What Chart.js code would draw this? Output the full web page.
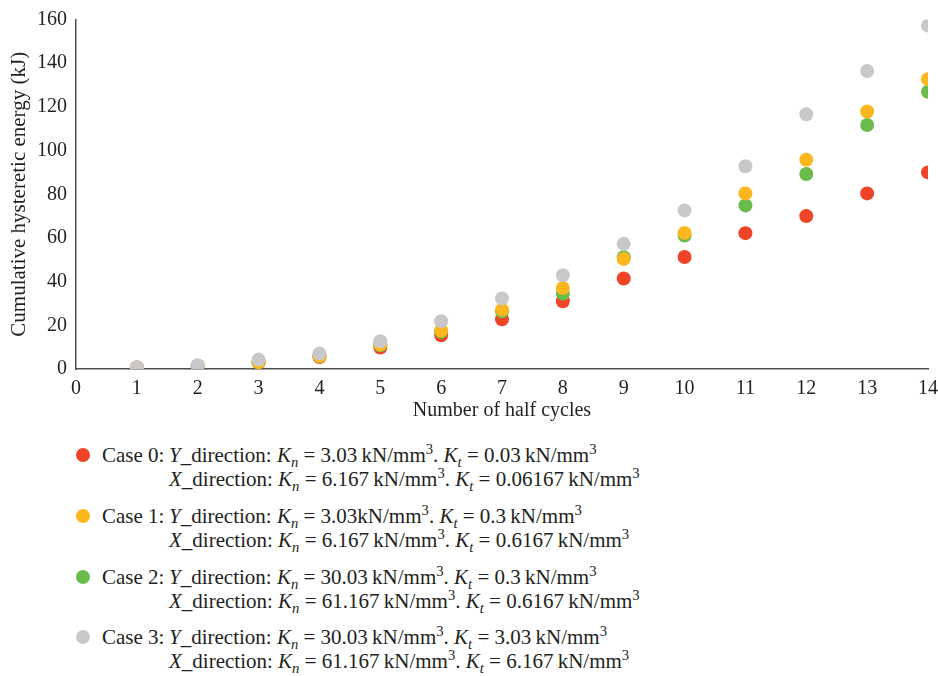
<!DOCTYPE html>
<html>
<head>
<meta charset="utf-8">
<script src="https://cdn.jsdelivr.net/npm/chart.js@4"></script>
<style>
  html, body { margin: 0; padding: 0; background: #fff; }
  body { width: 938px; height: 676px; position: relative; overflow: hidden;
         font-family: "Liberation Serif", "DejaVu Serif", serif; color: #231f20; }
  #wrap { position: absolute; left: 0; top: 0; width: 938px; height: 430px; }
  .legend { position: absolute; left: 0; top: 0; font-size: 21px; }
  .dot { position: absolute; width: 14px; height: 14px; border-radius: 50%; }
  .line { position: absolute; white-space: nowrap; line-height: 24px; }
  i { font-style: italic; }
  sub { font-size: 0.7em; vertical-align: -0.35em; line-height: 0; font-style: italic; }
  sup { font-size: 0.7em; vertical-align: 0.55em; line-height: 0; }
</style>
</head>
<body>
<div id="wrap"><canvas id="c" width="938" height="430"></canvas></div>
<div class="legend" id="legend"></div>
<script>
// ---- data ----
const halfCycles = [1, 2, 3, 4, 5, 6, 7, 8, 9, 10, 11, 12, 13, 14];
const case0 = [0.7, 1.3, 2.9, 5.5, 9.8, 15.4, 22.8, 31.0, 41.4, 51.3, 62.2, 70.0, 80.4, 90.0];
const case1 = [0.7, 1.5, 3.2, 5.9, 11.2, 17.6, 27.2, 37.1, 50.4, 62.3, 80.4, 95.8, 117.9, 132.7];
const case2 = [0.7, 1.4, 3.2, 5.8, 10.9, 17.0, 26.4, 34.5, 51.2, 61.1, 74.9, 89.3, 111.7, 126.9];
const case3 = [0.8, 1.7, 4.3, 7.1, 12.7, 21.9, 32.3, 42.9, 57.3, 72.6, 92.8, 116.6, 136.4, 157.2];
const xTicks = [0, 1, 2, 3, 4, 5, 6, 7, 8, 9, 10, 11, 12, 13, 14];
const yTicks = [0, 20, 40, 60, 80, 100, 120, 140, 160];
const seriesNames = ["Case 0", "Case 1", "Case 2", "Case 3"];
const colors = ["#EE4427", "#FDB71E", "#69BC4C", "#C8C8CA"];
const drawOrder = [3, 1, 2, 0];
const legendLines = [
  ["<i>Y</i>_direction: <i>K</i><sub>n</sub> = 3.03&thinsp;kN/mm<sup>3</sup>. <i>K</i><sub>t</sub> = 0.03&thinsp;kN/mm<sup>3</sup>",
   "<i>X</i>_direction: <i>K</i><sub>n</sub> = 6.167&thinsp;kN/mm<sup>3</sup>. <i>K</i><sub>t</sub> = 0.06167&thinsp;kN/mm<sup>3</sup>"],
  ["<i>Y</i>_direction: <i>K</i><sub>n</sub> = 3.03kN/mm<sup>3</sup>. <i>K</i><sub>t</sub> = 0.3&thinsp;kN/mm<sup>3</sup>",
   "<i>X</i>_direction: <i>K</i><sub>n</sub> = 6.167&thinsp;kN/mm<sup>3</sup>. <i>K</i><sub>t</sub> = 0.6167&thinsp;kN/mm<sup>3</sup>"],
  ["<i>Y</i>_direction: <i>K</i><sub>n</sub> = 30.03&thinsp;kN/mm<sup>3</sup>. <i>K</i><sub>t</sub> = 0.3&thinsp;kN/mm<sup>3</sup>",
   "<i>X</i>_direction: <i>K</i><sub>n</sub> = 61.167&thinsp;kN/mm<sup>3</sup>. <i>K</i><sub>t</sub> = 0.6167&thinsp;kN/mm<sup>3</sup>"],
  ["<i>Y</i>_direction: <i>K</i><sub>n</sub> = 30.03&thinsp;kN/mm<sup>3</sup>. <i>K</i><sub>t</sub> = 3.03&thinsp;kN/mm<sup>3</sup>",
   "<i>X</i>_direction: <i>K</i><sub>n</sub> = 61.167&thinsp;kN/mm<sup>3</sup>. <i>K</i><sub>t</sub> = 6.167&thinsp;kN/mm<sup>3</sup>"]
];

const allSeries = [case0, case1, case2, case3];
const datasets = allSeries.map((vals, i) => ({
  label: seriesNames[i],
  data: halfCycles.map((x, j) => ({ x: x, y: vals[j] })),
  backgroundColor: colors[i],
  borderColor: colors[i],
  borderWidth: 0,
  pointRadius: 7,
  pointHoverRadius: 7,
  showLine: false,
  order: drawOrder[i]
}));

const FONT = "'Liberation Serif', 'DejaVu Serif', serif";
const chart = new Chart(document.getElementById('c'), {
  type: 'scatter',
  data: { datasets },
  options: {
    responsive: false,
    animation: false,
    events: [],
    layout: { padding: { left: 0, right: 10, top: 19.5, bottom: 0 } },
    plugins: { legend: { display: false }, tooltip: { enabled: false } },
    scales: {
      x: {
        type: 'linear', min: 0, max: 14,
        afterBuildTicks: s => { s.ticks = xTicks.map(v => ({ value: v })); },
        afterFit: s => { s.height = 61; s.paddingLeft = 0; s.paddingRight = 0; },
        grid: { display: false, drawTicks: false },
        border: { display: true, color: '#4d4d4d', width: 1.5 },
        ticks: { color: '#231f20', padding: 8, font: { family: FONT, size: 20 } },
        title: { display: true, text: 'Number of half cycles', color: '#231f20',
                 font: { family: FONT, size: 20 }, padding: { top: 0, bottom: 7 } }
      },
      y: {
        type: 'linear', min: 0, max: 160,
        afterBuildTicks: s => { s.ticks = yTicks.map(v => ({ value: v })); },
        afterFit: s => { s.width = 76; s.paddingTop = 0; s.paddingBottom = 0; },
        grid: { display: false, drawTicks: false },
        border: { display: true, color: '#4d4d4d', width: 1.5 },
        ticks: { color: '#231f20', padding: 9, font: { family: FONT, size: 20 } },
        title: { display: true, text: 'Cumulative hysteretic energy (kJ)', color: '#231f20',
                 font: { family: FONT, size: 21 }, padding: { top: 7, bottom: 0 } }
      }
    }
  }
});

// ---- HTML legend (rich text with sub/superscripts) ----
const legend = document.getElementById('legend');
const caseTops = [455, 516, 577, 637];
seriesNames.forEach((name, i) => {
  const cy = caseTops[i];
  const d = document.createElement('div');
  d.className = 'dot';
  d.style.background = colors[i];
  d.style.left = (83 - 7) + 'px';
  d.style.top = (cy - 7) + 'px';
  legend.appendChild(d);
  const lab = document.createElement('div');
  lab.className = 'line';
  lab.style.left = '102px';
  lab.style.top = (cy - 12) + 'px';
  lab.textContent = name + ':';
  legend.appendChild(lab);
  legendLines[i].forEach((txt, k) => {
    const l = document.createElement('div');
    l.className = 'line';
    l.style.left = '169px';
    l.style.top = (cy - 12 + k * 24) + 'px';
    l.innerHTML = txt;
    legend.appendChild(l);
  });
});
</script>
</body>
</html>
